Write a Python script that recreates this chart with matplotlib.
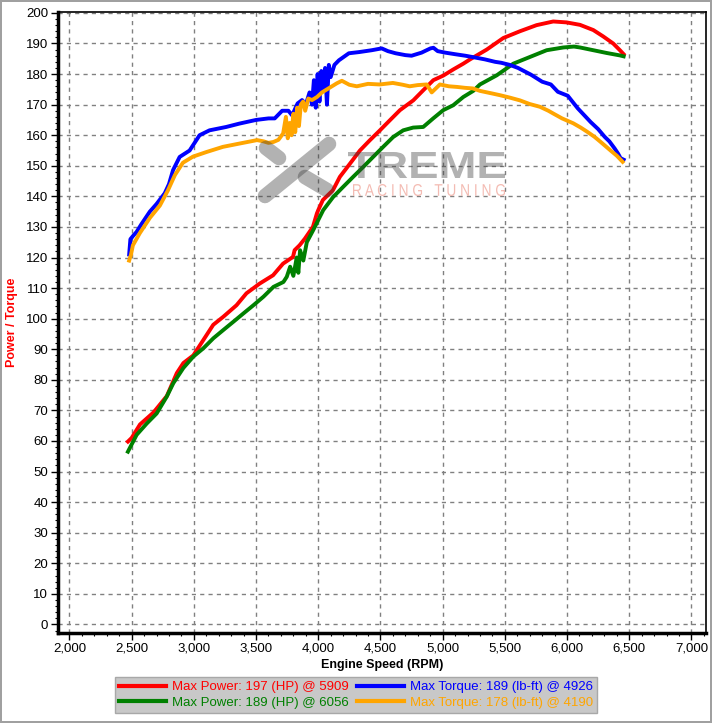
import matplotlib
matplotlib.use('Agg')
import matplotlib.pyplot as plt
from matplotlib.ticker import MultipleLocator, FuncFormatter
from matplotlib.textpath import TextPath
from matplotlib.patches import PathPatch
from matplotlib.font_manager import FontProperties
from matplotlib.transforms import Affine2D, IdentityTransform
from matplotlib.lines import Line2D

plt.rcParams['font.family'] = ['Liberation Sans', 'DejaVu Sans']

# Run 1 - power (red)
power1_rpm = [2470, 2500, 2567, 2675, 2783, 2863, 2916, 2996, 3076, 3156, 3236, 3343, 3423,
              3530, 3637, 3717, 3797, 3810, 3850, 3893, 3957, 3989, 4000, 4037, 4118, 4174,
              4255, 4335, 4416, 4496, 4576, 4657, 4764, 4844, 4925, 5005, 5085, 5166, 5220,
              5354, 5488, 5621, 5755, 5889, 5996, 6104, 6211, 6291, 6371, 6425, 6455]
power1_hp = [59.8, 61, 65.4, 69.3, 74.7, 82.2, 85.5, 88, 93, 98, 100.6, 104.4, 108.3,
             111.5, 114.2, 118, 120.2, 122.4, 124, 126.2, 130, 134.4, 135.5, 138.8, 142, 146.4,
             150.7, 155, 158.4, 161.6, 164.9, 168.2, 171.4, 174.7, 178, 179.5, 181.5, 183.4, 184.8,
             188, 191.8, 194, 196, 197.2, 196.9, 196.1, 194.4, 192.3, 190, 187.8, 186.5]

# Run 2 - power (green)
power2_rpm = [2470, 2540, 2621, 2701, 2782, 2835, 2916, 2996, 3076, 3157, 3237, 3318, 3398,
              3479, 3560, 3640, 3720, 3747, 3774, 3800, 3827, 3840, 3854, 3880, 3908, 3960,
              4040, 4120, 4200, 4281, 4361, 4441, 4522, 4602, 4683, 4763, 4844, 4924, 5005,
              5085, 5166, 5246, 5300, 5435, 5568, 5702, 5836, 5970, 6056, 6104, 6211, 6318,
              6425, 6455]
power2_hp = [56.5, 62, 65.7, 69, 74.5, 78.9, 83.9, 87.6, 90.3, 93.6, 96.3, 99, 101.7,
             104.4, 107.2, 110.4, 112, 113.7, 117, 114, 120, 115, 122.4, 119, 125, 129,
             135.5, 139.8, 143.1, 146.4, 149.6, 152.9, 156.2, 159.4, 161.6, 162.5, 162.7, 165.5, 168.2,
             169.8, 172.5, 174.5, 176.6, 179.6, 183.4, 185.6, 187.8, 188.7, 189, 188.7, 187.8, 186.9,
             186.1, 185.8]

# Run 1 - torque (blue)
torque1_rpm = [2480, 2490, 2510, 2540, 2580, 2646, 2700, 2766, 2800, 2833, 2886, 2966, 3046,
               3126, 3260, 3366, 3500, 3600, 3650, 3710, 3760, 3790, 3834, 3870, 3900, 3930,
               3950, 3965, 3980, 3995, 4010, 4025, 4040, 4055, 4070, 4085, 4100, 4130, 4166,
               4246, 4330, 4430, 4510, 4560, 4622, 4700, 4750, 4830, 4902, 4926, 4960, 5022,
               5100, 5182, 5250, 5340, 5422, 5470, 5540, 5606, 5710, 5800, 5870, 5926, 6006,
               6086, 6190, 6250, 6302, 6340, 6382, 6410, 6430, 6455]
torque1_lbft = [121, 126, 127, 128.4, 131, 135, 137.5, 141, 144, 148.6, 152.9, 155, 160,
                161.6, 162.7, 163.8, 165, 165.5, 165.5, 168, 168, 166.5, 170.4, 171.5, 170, 174,
                170, 178, 169, 180, 171, 181, 175, 182, 170, 183, 179, 183, 184.5,
                186.8, 187.2, 187.8, 188.4, 187.5, 186.8, 186.2, 186, 187, 188.4, 188.6, 187.5, 187,
                186.5, 186, 185.5, 184.8, 184, 183.7, 183, 182, 179.8, 177.5, 176.6, 174.2, 172.9,
                168.8, 164.3, 162, 159.5, 158, 155.7, 154, 152.5, 152]

# Run 2 - torque (orange)
torque2_rpm = [2480, 2495, 2510, 2566, 2647, 2727, 2792, 2848, 2912, 2993, 3101, 3234, 3370,
               3508, 3560, 3600, 3640, 3680, 3718, 3740, 3755, 3770, 3785, 3800, 3815, 3830,
               3845, 3860, 3878, 3895, 3920, 3950, 3990, 4030, 4070, 4110, 4150, 4190, 4250,
               4310, 4400, 4494, 4600, 4680, 4735, 4800, 4872, 4912, 4978, 5050, 5114, 5180,
               5243, 5300, 5404, 5460, 5540, 5621, 5700, 5782, 5850, 5889, 5960, 6050, 6110,
               6163, 6220, 6270, 6350, 6400, 6447]
torque2_lbft = [119, 121, 124, 128, 133, 137, 142, 147, 151, 153, 154.5, 156.2, 157.3,
                158.4, 158, 157.5, 157.8, 158.5, 160.6, 166, 159, 164, 160, 167, 161, 169,
                163, 170, 171, 168, 172, 171.5, 172.5, 174, 175, 176, 177, 177.8, 176.5,
                176, 176.8, 176.6, 177.1, 176.5, 176, 176.4, 176.6, 174, 176.6, 176, 175.8, 175.5,
                175.3, 174.5, 173.6, 173.1, 172.3, 171.4, 170.2, 169.3, 168, 167.1, 165.5, 163.9, 162.5,
                161.1, 159.5, 157.8, 155, 153.3, 151.3]

labels = ['Max Power: 197 (HP) @ 5909', 'Max Power: 189 (HP) @ 6056',
          'Max Torque: 189 (lb-ft) @ 4926', 'Max Torque: 178 (lb-ft) @ 4190']
colors = ['#ff0000', '#008000', '#0000ff', '#ffa500']

W, H = 712, 723
fig = plt.figure(figsize=(W / 100, H / 100), dpi=100)
fig.patch.set_edgecolor('#a0a0a0')
fig.patch.set_linewidth(1.5)

ax = fig.add_axes([58 / W, 1 - 633 / H, (706 - 58) / W, (633 - 12) / H])

lines = []
for x, y, c, lab in zip([power1_rpm, power2_rpm, torque1_rpm, torque2_rpm],
                        [power1_hp, power2_hp, torque1_lbft, torque2_lbft], colors, labels):
    ln, = ax.plot(x, y, color=c, lw=2.8, label=lab, zorder=3)
    lines.append(ln)

ax.set_xlim(1908, 7117)
ax.set_ylim(-2.8, 200.3)
ax.xaxis.set_major_locator(MultipleLocator(500))
ax.xaxis.set_minor_locator(MultipleLocator(100))
ax.yaxis.set_major_locator(MultipleLocator(10))
ax.yaxis.set_minor_locator(MultipleLocator(2))
ax.xaxis.set_major_formatter(FuncFormatter(lambda v, p: f'{v:,.0f}'))
ax.grid(True, which='major', color='#808080', linestyle=(0, (3, 3)), linewidth=1)
ax.tick_params(which='major', length=5, width=1, labelsize=9.5, pad=2)
ax.tick_params(which='minor', length=2, width=0.8)

for s in ['left', 'bottom']:
    ax.spines[s].set_linewidth(2.5)
for s in ['top', 'right']:
    ax.spines[s].set_linewidth(1.2)

ax.set_xlabel('Engine Speed (RPM)', fontsize=9, fontweight='bold', labelpad=3)
ax.set_ylabel('Power / Torque', fontsize=9, fontweight='bold', color='#ff0000')
ax.yaxis.set_label_coords((18 - 58) / 648, 0.5)


def to_disp(x, y):
    return x, H - y


# watermark logo
mark = '#404040'
for (x0, y0), (x1, y1) in [((265, 196), (329, 144)), ((266, 148), (279, 158)),
                           ((305, 177), (327, 190))]:
    a, b = to_disp(x0, y0)
    c, d = to_disp(x1, y1)
    fig.add_artist(Line2D([a, c], [b, d], transform=IdentityTransform(), color=mark,
                          alpha=0.4, lw=10.5, solid_capstyle='round', zorder=10))


def fit_text(txt, box, color, alpha, weight='normal'):
    tp = TextPath((0, 0), txt, size=10, prop=FontProperties(family='Liberation Sans', weight=weight))
    ext = tp.get_extents()
    x0, y0, x1, y1 = box
    sx = (x1 - x0) / ext.width
    sy = (y1 - y0) / ext.height
    tr = Affine2D().translate(-ext.x0, -ext.y0).scale(sx, sy).translate(x0, H - y1)
    fig.add_artist(PathPatch(tr.transform_path(tp), transform=IdentityTransform(),
                             facecolor=color, edgecolor='none', alpha=alpha, zorder=10))


fit_text('TREME', (348, 152, 505, 178), mark, 0.4, weight='bold')
fit_text('R A C I N G   T U N I N G', (353, 184, 505, 196), '#f2b0a6', 0.85)

leg = fig.legend(handles=lines, loc='center', bbox_to_anchor=(356 / W, 1 - 695 / H), ncol=2,
                 fontsize=9.5, labelcolor='linecolor', frameon=True, fancybox=False,
                 handlelength=3.6, handletextpad=0.45, columnspacing=0.6, labelspacing=0.25,
                 borderpad=0.3, borderaxespad=0)
leg.get_frame().set_facecolor('#c8c8c8')
leg.get_frame().set_edgecolor('#a8a8a8')
leg.get_frame().set_alpha(1)
for h in leg.legend_handles:
    h.set_linewidth(3)

fig.savefig('out.png', dpi=100)
